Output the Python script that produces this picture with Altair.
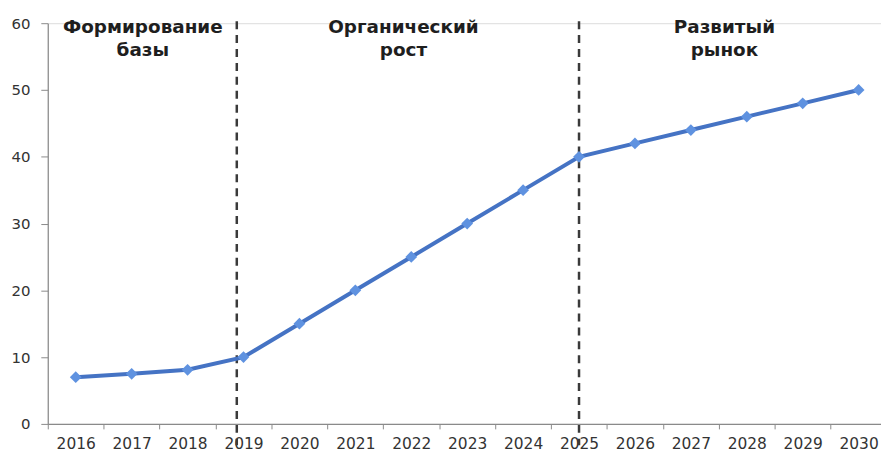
import altair as alt
import pandas as pd

years = list(range(2016, 2031))
values = [7, 7.5, 8.1, 10, 15, 20, 25, 30, 35, 40, 42, 44, 46, 48, 50]

divider_years = [2018.88, 2025.0]
divider_top = [60.3, 60.3]
divider_bottom = [-3.2, -3.2]

phase_x = [2017.2, 2021.86, 2027.6]
phase_y = [58.6, 58.6, 58.6]
phase_labels = ["Формирование\nбазы", "Органический\nрост", "Развитый\nрынок"]

W, H = 838, 403
XMAX = 2030.4
band = W / (XMAX - 2015.5)

df = pd.DataFrame({"year": years, "value": values})
div_df = pd.DataFrame({"year": divider_years, "top": divider_top, "bottom": divider_bottom})
lab_df = pd.DataFrame({"x": phase_x, "y": phase_y, "label": phase_labels})

xscale = alt.Scale(domain=[2015.5, XMAX], nice=False, zero=False)
yscale = alt.Scale(domain=[0, 60], nice=False)

xaxis = alt.Axis(
    values=years, format="d", title=None, grid=False,
    tickOffset=-band / 2, labelOffset=band / 2, tickSize=5,
    labelFont="DejaVu Sans", labelFontSize=15.5, labelColor="#333333",
    labelPadding=8, labelOverlap=False, labelFlush=False, labelBound=False,
    domainColor="#8a8a8a", tickColor="#8a8a8a", domainWidth=1.2,
)
yaxis = alt.Axis(
    values=[0, 10, 20, 30, 40, 50, 60], title=None, grid=False, tickSize=7,
    labelFont="DejaVu Sans", labelFontSize=15, labelColor="#333333",
    labelPadding=11, domainColor="#8a8a8a", tickColor="#8a8a8a", domainWidth=1.2,
)

line = alt.Chart(df).mark_line(color="#4573c4", strokeWidth=4).encode(
    x=alt.X("year:Q", scale=xscale, axis=xaxis),
    y=alt.Y("value:Q", scale=yscale, axis=yaxis),
)
points = alt.Chart(df).mark_point(
    shape="diamond", filled=True, size=140, color="#5f92e0", opacity=1
).encode(x=alt.X("year:Q", scale=xscale), y=alt.Y("value:Q", scale=yscale))

dividers = alt.Chart(div_df).mark_rule(
    color="#3a3a3a", strokeWidth=2.5, strokeDash=[8, 6], clip=False
).encode(
    x=alt.X("year:Q", scale=xscale),
    y=alt.Y("top:Q", scale=yscale),
    y2="bottom:Q",
)

labels = alt.Chart(lab_df).mark_text(
    font="DejaVu Sans", fontSize=18.5, fontWeight="bold", color="#1e1e1e",
    align="center", baseline="alphabetic", lineBreak="\n", lineHeight=24, clip=False,
).encode(
    x=alt.X("x:Q", scale=xscale),
    y=alt.Y("y:Q", scale=yscale),
    text="label:N",
)

chart = alt.layer(dividers, line, points, labels).properties(
    width=W, height=H,
    autosize=alt.AutoSizeParams(type="none"),
    padding={"left": 40, "top": 14, "right": 0, "bottom": 30},
).configure_view(stroke=None).configure(background="white")

chart.save("out.html", embed_options={"renderer": "svg", "actions": False})
